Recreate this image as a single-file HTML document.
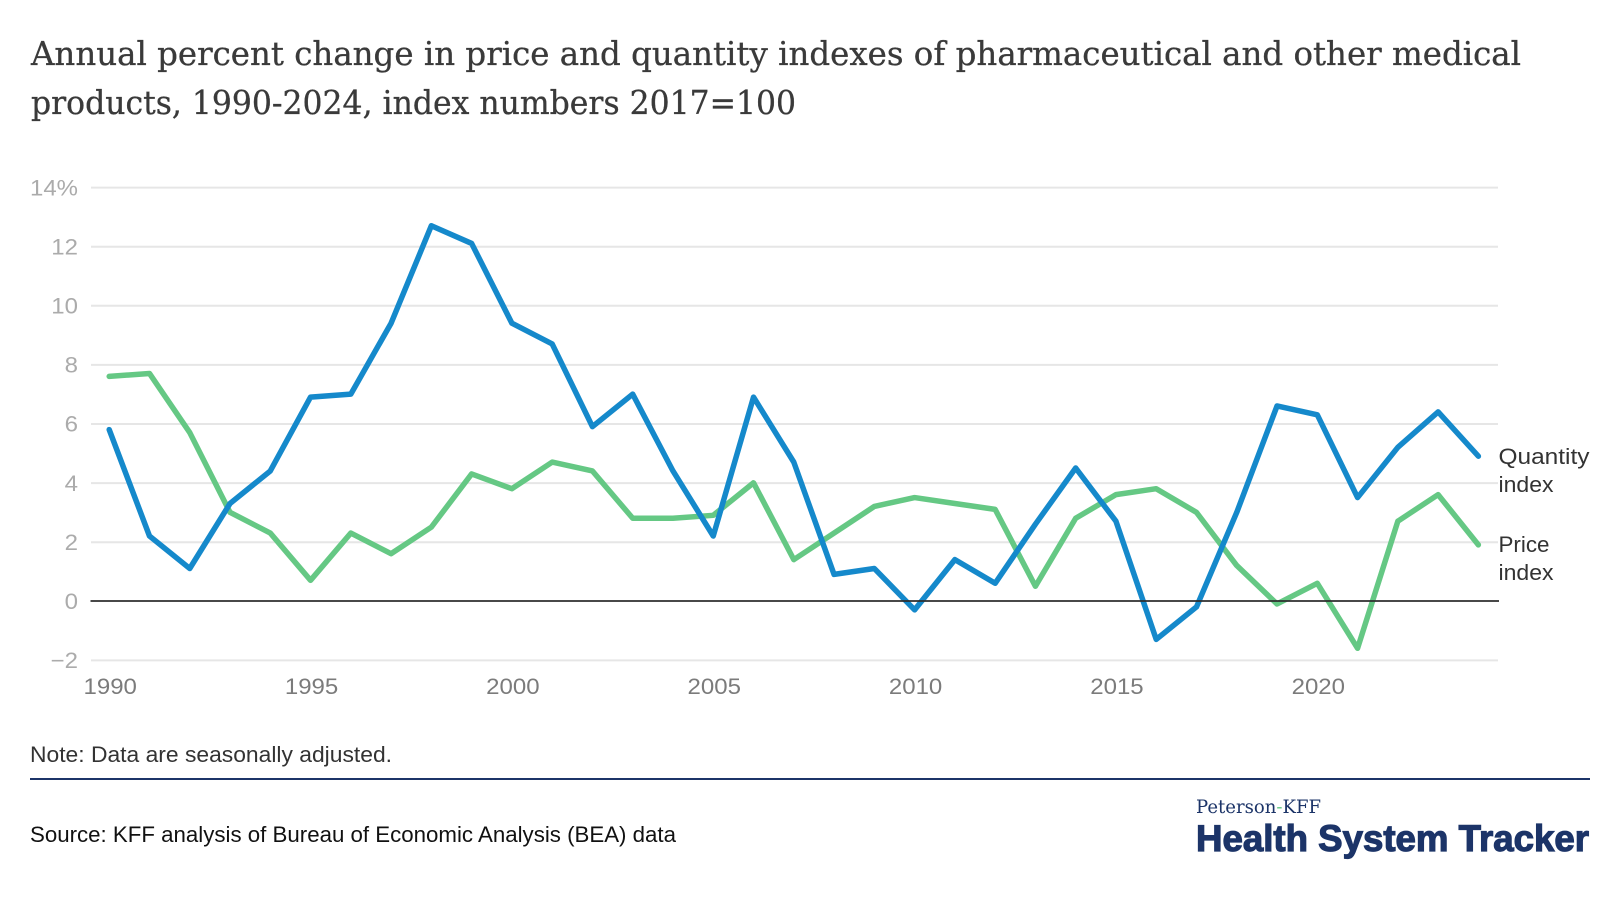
<!DOCTYPE html>
<html lang="en">
<head>
<meta charset="utf-8">
<title>Annual percent change in price and quantity indexes</title>
<style>
html,body{margin:0;padding:0;background:#fff;width:1620px;height:916px;overflow:hidden}
svg{display:block}
text{font-family:"Liberation Sans",sans-serif}
.serif{font-family:"DejaVu Serif","Liberation Serif",serif}
</style>
</head>
<body>
<svg id="chart" width="1620" height="916" viewBox="0 0 1620 916" xmlns="http://www.w3.org/2000/svg">
  <rect x="0" y="0" width="1620" height="916" fill="#ffffff"/>
  <text class="serif" x="31" y="65" font-size="33" fill="#3a3a3a" stroke="#3a3a3a" stroke-width="0.3" textLength="1490" lengthAdjust="spacingAndGlyphs">Annual percent change in price and quantity indexes of pharmaceutical and other medical</text>
  <text class="serif" x="31" y="114" font-size="33" fill="#3a3a3a" stroke="#3a3a3a" stroke-width="0.3" textLength="765" lengthAdjust="spacingAndGlyphs">products, 1990-2024, index numbers 2017=100</text>
  <g id="grid"></g>
  <g id="yticks"></g>
  <g id="xticks"></g>
  <g id="series"></g>
  <g id="zero"></g>
  <text x="1498.5" y="464" font-size="22.5" fill="#333333" textLength="91" lengthAdjust="spacingAndGlyphs">Quantity</text>
  <text x="1498.5" y="492" font-size="22.5" fill="#333333" textLength="55" lengthAdjust="spacingAndGlyphs">index</text>
  <text x="1498.5" y="552" font-size="22.5" fill="#333333" textLength="51" lengthAdjust="spacingAndGlyphs">Price</text>
  <text x="1498.5" y="580" font-size="22.5" fill="#333333" textLength="55" lengthAdjust="spacingAndGlyphs">index</text>
  <text x="30" y="762" font-size="22" fill="#333333" textLength="362" lengthAdjust="spacingAndGlyphs">Note: Data are seasonally adjusted.</text>
  <rect x="30" y="778" width="1560" height="2" fill="#1c3468"/>
  <text x="30" y="842" font-size="22" fill="#111111" textLength="646" lengthAdjust="spacingAndGlyphs">Source: KFF analysis of Bureau of Economic Analysis (BEA) data</text>
  <text class="serif" x="1196" y="813" font-size="19" fill="#1c3468" textLength="125" lengthAdjust="spacingAndGlyphs">Peterson<tspan fill="#65c884">-</tspan>KFF</text>
  <text x="1196" y="851" font-size="37" font-weight="700" fill="#1c3468" stroke="#1c3468" stroke-width="1.2" textLength="393" lengthAdjust="spacingAndGlyphs">Health System Tracker</text>
</svg>
<script>
const years = [1990,1991,1992,1993,1994,1995,1996,1997,1998,1999,2000,2001,2002,2003,2004,2005,2006,2007,2008,2009,2010,2011,2012,2013,2014,2015,2016,2017,2018,2019,2020,2021,2022,2023,2024];
const quantityIndex = [5.8,2.2,1.1,3.3,4.4,6.9,7.0,9.4,12.7,12.1,9.4,8.7,5.9,7.0,4.4,2.2,6.9,4.7,0.9,1.1,-0.3,1.4,0.6,2.6,4.5,2.7,-1.3,-0.2,3.0,6.6,6.3,3.5,5.2,6.4,4.9];
const priceIndex = [7.6,7.7,5.7,3.0,2.3,0.7,2.3,1.6,2.5,4.3,3.8,4.7,4.4,2.8,2.8,2.9,4.0,1.4,2.3,3.2,3.5,3.3,3.1,0.5,2.8,3.6,3.8,3.0,1.2,-0.1,0.6,-1.6,2.7,3.6,1.9];
const yTicks = [14,12,10,8,6,4,2,0,-2];
const yTickLabels = ["14%","12","10","8","6","4","2","0","\u22122"];
const xTicks = [1990,1995,2000,2005,2010,2015,2020];

const NS = "http://www.w3.org/2000/svg";
function xScale(year){ return 109.2 + (year - 1990) * 40.27; }
function yScale(v){ return 601 - v * 29.55; }
function widen(el){
  el.setAttribute("textLength", (el.getComputedTextLength() * 1.09).toFixed(1));
  el.setAttribute("lengthAdjust", "spacingAndGlyphs");
}

const gridGroup = document.getElementById("grid");
const yGroup = document.getElementById("yticks");
const xGroup = document.getElementById("xticks");
const seriesGroup = document.getElementById("series");
const zeroGroup = document.getElementById("zero");

yTicks.forEach(function(t, i){
  if (t !== 0) {
    const ln = document.createElementNS(NS, "line");
    
    
    ln.setAttribute("x1", 91);
    ln.setAttribute("x2", 1498);
    ln.setAttribute("y1", yScale(t) + 0.3);
    ln.setAttribute("y2", yScale(t) + 0.3);
    ln.setAttribute("stroke", "#e6e6e6");
    ln.setAttribute("stroke-width", 2);
    gridGroup.appendChild(ln);
  }
  const tx = document.createElementNS(NS, "text");
  
  
  tx.setAttribute("x", 78);
  tx.setAttribute("y", yScale(t) + 8);
  tx.setAttribute("text-anchor", "end");
  tx.setAttribute("font-size", 22);
  tx.setAttribute("fill", "#ababab");
  tx.textContent = yTickLabels[i];
  yGroup.appendChild(tx);
  widen(tx);
});

xTicks.forEach(function(y){
  const tx = document.createElementNS(NS, "text");
  
  
  tx.setAttribute("x", xScale(y) + 1);
  tx.setAttribute("y", 694);
  tx.setAttribute("text-anchor", "middle");
  tx.setAttribute("font-size", 22);
  tx.setAttribute("fill", "#7b7b7b");
  tx.textContent = String(y);
  xGroup.appendChild(tx);
  widen(tx);
});

function linePoints(values){
  return values.map(function(v, i){
    return xScale(years[i]).toFixed(2) + "," + yScale(v).toFixed(2);
  }).join(" ");
}

const priceLine = document.createElementNS(NS, "polyline");


priceLine.setAttribute("points", linePoints(priceIndex));
priceLine.setAttribute("fill", "none");
priceLine.setAttribute("stroke", "#65c884");
priceLine.setAttribute("stroke-width", 5.5);
priceLine.setAttribute("stroke-linecap", "round");
priceLine.setAttribute("stroke-linejoin", "round");
seriesGroup.appendChild(priceLine);

const quantityLine = document.createElementNS(NS, "polyline");


quantityLine.setAttribute("points", linePoints(quantityIndex));
quantityLine.setAttribute("fill", "none");
quantityLine.setAttribute("stroke", "#1589cb");
quantityLine.setAttribute("stroke-width", 5.5);
quantityLine.setAttribute("stroke-linecap", "round");
quantityLine.setAttribute("stroke-linejoin", "round");
seriesGroup.appendChild(quantityLine);

const zeroLine = document.createElementNS(NS, "line");


zeroLine.setAttribute("x1", 90.5);
zeroLine.setAttribute("x2", 1499);
zeroLine.setAttribute("y1", yScale(0));
zeroLine.setAttribute("y2", yScale(0));
zeroLine.setAttribute("stroke", "#2e2e2e");
zeroLine.setAttribute("stroke-width", 1.8);
zeroGroup.appendChild(zeroLine);
</script>
</body>
</html>
